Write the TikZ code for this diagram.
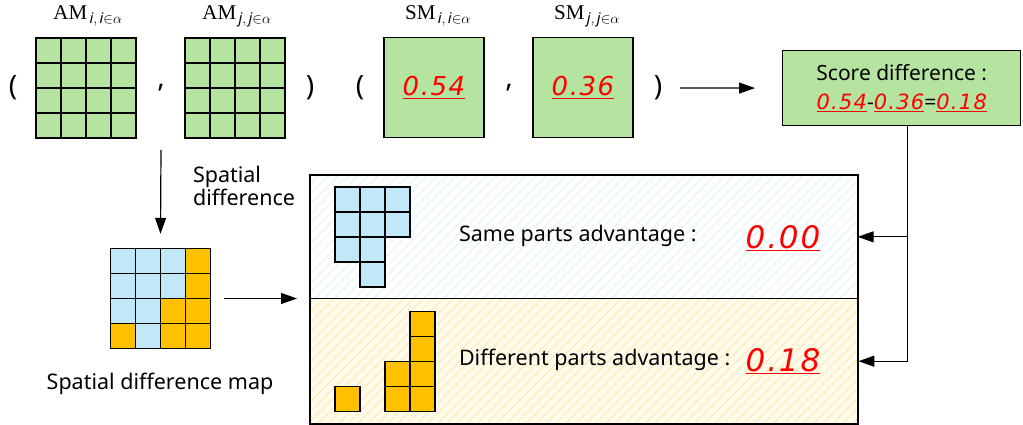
\documentclass[tikz,border=0pt]{standalone}
\usepackage{fontspec}
\setmainfont{Noto Sans}
\newfontfamily\serifam{Liberation Serif}
\newfontfamily\handnum{DejaVu Sans}[LetterSpace=6]
\usetikzlibrary{arrows.meta,patterns.meta,positioning}
\definecolor{amgreen}{RGB}{180,228,160}
\definecolor{partblue}{RGB}{192,232,248}
\definecolor{partorange}{RGB}{255,192,0}
\newcommand{\hnum}[1]{{\color{red}\handnum\itshape\underline{#1}}}

\begin{document}
\begin{tikzpicture}[x=1pt, y=-1pt, line width=1.4pt,
	cell/.style = {draw, minimum size=25pt, inner sep=0pt},
	smbox/.style = {draw, fill=amgreen, minimum size=100pt, inner sep=0pt, font=\fontsize{26}{28}\selectfont},
	holder/.style = {minimum size=100pt, inner sep=0pt},
	maplabel/.style = {font=\serifam\fontsize{21}{24}\selectfont},
	bracket/.style = {font=\fontsize{28}{30}\selectfont},
	section/.style = {draw, minimum width=547pt, minimum height=123pt, anchor=north west, inner sep=0pt},
	flow/.style = {line width=1.2pt, -{Triangle[length=16pt,width=11pt]}},
	txt/.style = {font=\fontsize{21.5}{24}\selectfont}]
	\useasboundingbox (0,0) rectangle (1023,425);

	% attention maps
	\node[bracket] (lpar1) at (13,88) {(};
	\node[holder] (ami) at (86,87.5) {};
	\foreach \r in {0,...,3} {\foreach \c in {0,...,3} {\node[cell, fill=amgreen] at (48.5+25*\c, 50.5+25*\r) {};}}
	\node[bracket] (comma1) at (161,88) {,};
	\node[holder] (amj) at (235,87.5) {};
	\foreach \r in {0,...,3} {\foreach \c in {0,...,3} {\node[cell, fill=amgreen] at (197.5+25*\c, 50.5+25*\r) {};}}
	\node[bracket] (rpar1) at (310,88) {)};
	\node[maplabel] (amilab) at (88,16) {AM$_{\,\mathit{i,\,i\in\alpha}}$};
	\node[maplabel] (amjlab) at (237,16) {AM$_{\,\mathit{j,\,j\in\alpha}}$};

	% score maps
	\node[bracket] (lpar2) at (360,88) {(};
	\node[smbox] (smi) at (434,87.5) {\hnum{0.54}};
	\node[bracket] (comma2) at (509,88) {,};
	\node[smbox] (smj) at (583,87.5) {\hnum{0.36}};
	\node[bracket] (rpar2) at (658,88) {)};
	\node[maplabel] (smilab) at (438,16) {SM$_{\,\mathit{i,\,i\in\alpha}}$};
	\node[maplabel] (smjlab) at (587,16) {SM$_{\,\mathit{j,\,j\in\alpha}}$};

	\node[draw, fill=amgreen, minimum width=238pt, minimum height=75pt, anchor=north west, align=center,
		font=\fontsize{21}{29}\selectfont] (score) at (782,50) {Score difference :\\\hnum{0.54}-\hnum{0.36}=\hnum{0.18}};
	\draw[flow, shorten <=14pt, shorten >=27pt] (rpar2) -- (score);

	% spatial difference map
	\node[holder] (map) at (160.5,298.5) {};
	\foreach \c/\r/\col in {0/0/partblue, 1/0/partblue, 2/0/partblue, 3/0/partorange,
		0/1/partblue, 1/1/partblue, 2/1/partblue, 3/1/partorange,
		0/2/partblue, 1/2/partblue, 2/2/partorange, 3/2/partorange,
		0/3/partorange, 1/3/partblue, 2/3/partorange, 3/3/partorange}
		{\node[cell, fill=\col] at (123+25*\c, 261+25*\r) {};}
	\node[txt] (maptext) at (160,384) {Spatial difference map};
	\coordinate (amsplit) at (161,150);
	\draw[flow] (amsplit) -- ([yshift=14pt]map.north);
	\node[txt, anchor=west, align=left, font=\fontsize{21.5}{23}\selectfont] (spatial) at (189,186) {Spatial\\difference};

	% advantage sections
	\node[section, preaction={fill=white}, pattern={Lines[angle=45,distance=7pt,line width=0.7pt]}, pattern color=partblue!60] (same) at (310,175) {};
	\node[section, minimum height=125pt, preaction={fill=partorange!7}, pattern={Lines[angle=45,distance=7pt,line width=0.7pt]}, pattern color=partorange!40] (diff) at (310,298) {};
	\draw (same.south west) -- (same.south east);
	\draw (same.north west) rectangle (diff.south east);

	\foreach \c/\r in {0/0, 1/0, 2/0, 0/1, 1/1, 2/1, 0/2, 1/2, 1/3}
		{\node[cell, fill=partblue] at (347.5+25*\c, 199.5+25*\r) {};}
	\foreach \c/\r in {0/3, 2/2, 2/3, 3/0, 3/1, 3/2, 3/3}
		{\node[cell, fill=partorange] at (347.5+25*\c, 324+25*\r) {};}

	\node[txt, anchor=west] (sametext) at (455,236) {Same parts advantage :};
	\node[txt, anchor=west] (difftext) at (455,360) {Different parts advantage :};
	\node[font=\fontsize{31}{33}\selectfont] (samenum) at (783,238) {\hnum{0.00}};
	\node[font=\fontsize{31}{33}\selectfont] (diffnum) at (783,361) {\hnum{0.18}};

	\draw[flow, shorten <=13pt, shorten >=13pt] (map.east) -- (map.east -| same.west);
	\coordinate (tap) at ([xshift=6pt]score.south);
	\draw[line width=1.2pt] (tap) -- (tap |- diff.east);
	\draw[flow] (tap |- same.east) -- (same.east);
	\draw[flow] (tap |- diff.east) -- (diff.east);
\end{tikzpicture}
\end{document}
